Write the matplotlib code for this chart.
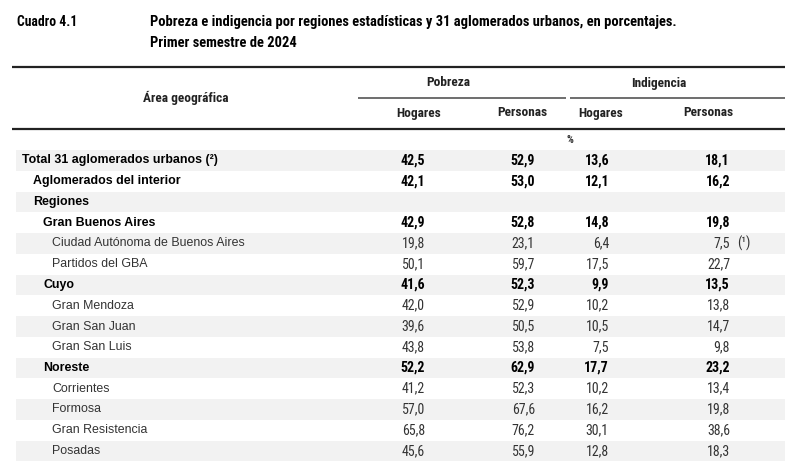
import matplotlib
matplotlib.use("Agg")
import matplotlib.pyplot as plt
from matplotlib import font_manager as fm
from matplotlib.font_manager import FontProperties

# ---------------- data ----------------
title_tag = "Cuadro 4.1"
title_line1 = "Pobreza e indigencia por regiones estadísticas y 31 aglomerados urbanos, en porcentajes."
title_line2 = "Primer semestre de 2024"
col_area = "Área geográfica"
group_labels = ["Pobreza", "Indigencia"]
sub_labels = ["Hogares", "Personas", "Hogares", "Personas"]
unit_label = "%"

labels = ["Total 31 aglomerados urbanos (²)", "Aglomerados del interior", "Regiones",
          "Gran Buenos Aires", "Ciudad Autónoma de Buenos Aires", "Partidos del GBA",
          "Cuyo", "Gran Mendoza", "Gran San Juan", "Gran San Luis",
          "Noreste", "Corrientes", "Formosa", "Gran Resistencia", "Posadas"]
levels = [0, 1, 1, 2, 3, 3, 2, 3, 3, 3, 2, 3, 3, 3, 3]
is_bold = [True, True, True, True, False, False, True, False, False, False,
           True, False, False, False, False]
pob_hogares = [42.5, 42.1, None, 42.9, 19.8, 50.1, 41.6, 42.0, 39.6, 43.8, 52.2, 41.2, 57.0, 65.8, 45.6]
pob_personas = [52.9, 53.0, None, 52.8, 23.1, 59.7, 52.3, 52.9, 50.5, 53.8, 62.9, 52.3, 67.6, 76.2, 55.9]
ind_hogares = [13.6, 12.1, None, 14.8, 6.4, 17.5, 9.9, 10.2, 10.5, 7.5, 17.7, 10.2, 16.2, 30.1, 12.8]
ind_personas = [18.1, 16.2, None, 19.8, 7.5, 22.7, 13.5, 13.8, 14.7, 9.8, 23.2, 13.4, 19.8, 38.6, 18.3]
notes = {(4, 3): "(¹)"}

# ---------------- fonts ----------------
def static_file(family, weight):
    for f in fm.fontManager.ttflist:
        try:
            w = int(f.weight)
        except Exception:
            w = {"normal": 400, "regular": 400, "bold": 700}.get(str(f.weight), 0)
        if f.name == family and f.style == "normal" and w == weight and "[" not in f.fname:
            return f.fname
    return None

narrow_prefs = ["Liberation Sans Narrow", "Arial Narrow", "Nimbus Sans Narrow", "Roboto Condensed",
                "Fira Sans Condensed", "IBM Plex Sans Condensed", "PT Sans Narrow",
                "Barlow Semi Condensed", "Asap Condensed"]
N_REG = N_BOLD = None
for fam in narrow_prefs:
    r, b = static_file(fam, 400), static_file(fam, 700)
    if r and b:
        N_REG, N_BOLD = r, b
        break


def nprop(bold, size):
    path = N_BOLD if bold else N_REG
    if path:
        return FontProperties(fname=path, size=size)
    return FontProperties(family="Liberation Sans", weight="bold" if bold else "normal", size=size)


def rprop(bold, size):
    return FontProperties(family="Liberation Sans", weight="bold" if bold else "normal", size=size)


W, H = 790, 462
fig = plt.figure(figsize=(W / 100, H / 100), dpi=100)
ax = fig.add_axes([0, 0, 1, 1])
ax.set_xlim(0, W)
ax.set_ylim(H, 0)
ax.axis("off")
renderer = fig.canvas.get_renderer()


def fit_size(text, width, propfun, bold):
    t = ax.text(0, 0, text, fontproperties=propfun(bold, 10))
    w = t.get_window_extent(renderer).width
    t.remove()
    return 10 * width / w


s_title = fit_size(title_line1, 528, nprop, True)
s_tag = fit_size(title_tag, 60, nprop, True)
s_head = fit_size("Personas", 50, nprop, True)
s_label = fit_size("Ciudad Autónoma de Buenos Aires", 193, rprop, False)
s_num = fit_size("42,0", 23, nprop, False)

# ---------------- title ----------------
ax.text(17, 22, title_tag, fontproperties=nprop(True, s_tag), va="center", ha="left")
ax.text(150, 22, title_line1, fontproperties=nprop(True, s_title), va="center", ha="left")
ax.text(150, 43, title_line2, fontproperties=nprop(True, s_title), va="center", ha="left")

# ---------------- header ----------------
ax.plot([12, 785], [67, 67], color="#222222", lw=1.6, solid_capstyle="butt")
ax.plot([12, 785], [129, 129], color="#222222", lw=1.6, solid_capstyle="butt")
ax.plot([358, 566], [98, 98], color="#555555", lw=1.2, solid_capstyle="butt")
ax.plot([570, 785], [98, 98], color="#555555", lw=1.2, solid_capstyle="butt")

ax.text(186, 98, col_area, fontproperties=nprop(True, s_head), ha="center", va="center", color="#222222")
for gx, g in zip([448, 659], group_labels):
    ax.text(gx, 83, g, fontproperties=nprop(True, s_head), ha="center", va="center", color="#222222")
for sx, s in zip([419, 522, 601, 708], sub_labels):
    ax.text(sx, 113, s, fontproperties=nprop(True, s_head), ha="center", va="center", color="#222222")
ax.text(570, 140, unit_label, fontproperties=nprop(True, s_head * 0.8), ha="center", va="center", color="#333333")

# ---------------- body ----------------
row0, step = 160.5, 20.75
indent = {0: 22, 1: 33, 2: 43, 3: 52}
col_right = [425, 535, 609, 730]
series = [pob_hogares, pob_personas, ind_hogares, ind_personas]

for i, lab in enumerate(labels):
    y = row0 + i * step
    if i % 2 == 0:
        ax.fill_between([16, 785], y - step / 2, y + step / 2, color="#f2f2f2", lw=0, zorder=0)
    bold = is_bold[i]
    color = "#000000" if bold else "#333333"
    ax.text(indent[levels[i]], y, lab, fontproperties=rprop(bold, s_label),
            color=color, ha="left", va="center")
    for j, ser in enumerate(series):
        v = ser[i]
        if v is None:
            continue
        txt = f"{v:.1f}".replace(".", ",")
        ax.text(col_right[j], y, txt, fontproperties=nprop(bold, s_num),
                color=color, ha="right", va="center")
        if (i, j) in notes:
            ax.text(col_right[j] + 7, y, notes[(i, j)], fontproperties=nprop(False, s_num),
                    color=color, ha="left", va="center")

fig.savefig("out.png", dpi=100, facecolor="white")
